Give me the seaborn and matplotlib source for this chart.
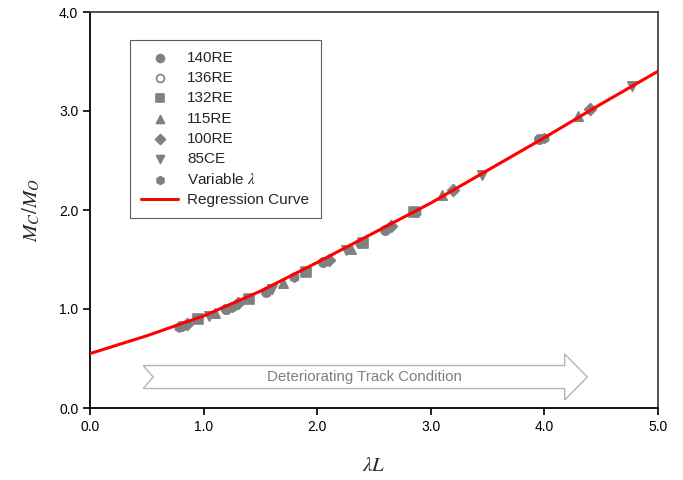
import matplotlib
matplotlib.use("Agg")
import matplotlib.pyplot as plt
import seaborn as sns
import pandas as pd
from matplotlib.patches import Polygon

sns.set_theme(style="white")
plt.rcParams['font.family'] = ['Liberation Sans', 'DejaVu Sans']
plt.rcParams['mathtext.fontset'] = 'stix'

# ---- data ----
x_140RE = [0.80, 1.20, 1.55, 2.05, 2.60, 3.95]
y_140RE = [0.83, 1.00, 1.17, 1.47, 1.80, 2.72]
x_136RE = [0.80, 1.20]
y_136RE = [0.83, 1.00]
x_132RE = [0.95, 1.40, 1.90, 2.40, 2.85]
y_132RE = [0.90, 1.10, 1.37, 1.67, 1.98]
x_115RE = [1.10, 1.70, 2.30, 3.10, 4.30]
y_115RE = [0.96, 1.26, 1.61, 2.15, 2.95]
x_100RE = [0.85, 1.30, 2.10, 2.65, 3.20, 4.40]
y_100RE = [0.85, 1.06, 1.50, 1.84, 2.20, 3.02]
x_85CE = [1.05, 1.60, 2.25, 3.45, 4.77]
y_85CE = [0.93, 1.20, 1.60, 2.35, 3.25]
x_var = [0.78, 1.25, 1.80, 2.38, 2.87, 4.00]
y_var = [0.82, 1.02, 1.32, 1.67, 1.98, 2.73]

curve_x = [0.0, 0.5, 1.0, 1.5, 2.0, 2.5, 3.0, 3.5, 4.0, 4.5, 5.0]
curve_y = [0.55, 0.73, 0.93, 1.18, 1.47, 1.77, 2.07, 2.40, 2.73, 3.07, 3.40]

series = [
    ("140RE", x_140RE, y_140RE, "o", "gray", 3),
    ("136RE", x_136RE, y_136RE, "o", "white", 2),
    ("132RE", x_132RE, y_132RE, "s", "gray", 3),
    ("115RE", x_115RE, y_115RE, "^", "gray", 3),
    ("100RE", x_100RE, y_100RE, "D", "gray", 3),
    ("85CE", x_85CE, y_85CE, "v", "gray", 3),
    (r"Variable $\lambda$", x_var, y_var, "h", "gray", 3),
]

fig, ax = plt.subplots(figsize=(6.83, 4.8), dpi=100)
fig.subplots_adjust(left=0.132, right=0.963, top=0.975, bottom=0.15)

for label, xs, ys, m, fc, z in series:
    df = pd.DataFrame({"x": xs, "y": ys})
    sz = 45 if m != "D" else 36
    sns.scatterplot(data=df, x="x", y="y", marker=m, s=sz, color=fc,
                    edgecolor="gray", linewidth=1.2, ax=ax, label=label, zorder=z)

cdf = pd.DataFrame({"x": curve_x, "y": curve_y})
sns.lineplot(data=cdf, x="x", y="y", color="red", linewidth=2.2, ax=ax,
             label="Regression Curve", zorder=4)

# arrow annotation
yc, bh, hh = 0.313, 0.116, 0.232
x0, xn, xb, xt = 0.467, 0.555, 4.18, 4.38
arrow = Polygon([(x0, yc + bh), (xb, yc + bh), (xb, yc + hh), (xt, yc),
                 (xb, yc - hh), (xb, yc - bh), (x0, yc - bh), (xn, yc)],
                closed=True, facecolor="white", edgecolor="#b4b4b4", linewidth=1.0, zorder=2)
ax.add_patch(arrow)
ax.text(2.42, yc, "Deteriorating Track Condition", ha="center", va="center",
        color="#7f7f7f", fontsize=10.8)

ax.set_xlim(0, 5)
ax.set_ylim(0, 4)
ax.set_xticks([0, 1, 2, 3, 4, 5])
ax.set_yticks([0, 1, 2, 3, 4])
ax.set_xticklabels(["0.0", "1.0", "2.0", "3.0", "4.0", "5.0"], fontsize=10)
ax.set_yticklabels(["0.0", "1.0", "2.0", "3.0", "4.0"], fontsize=10)
ax.tick_params(axis="both", direction="out", length=5, width=1.2, color="black",
               bottom=True, left=True, labelcolor="black")
ax.set_xlabel(r"$\lambda L$", fontsize=15, labelpad=16)
ax.set_ylabel(r"$M_C/M_O$", fontsize=15, labelpad=12)

for side in ["left", "bottom"]:
    ax.spines[side].set_color("black")
    ax.spines[side].set_linewidth(1.3)
for side in ["top", "right"]:
    ax.spines[side].set_color("#444444")
    ax.spines[side].set_linewidth(1.3)

leg = ax.legend(loc="upper left", bbox_to_anchor=(0.07, 0.93), frameon=True,
                fancybox=False, edgecolor="#333333", fontsize=11,
                borderpad=0.75, labelspacing=0.4, handlelength=2.4,
                handletextpad=0.6, borderaxespad=0, markerscale=0.85)
leg.get_frame().set_linewidth(0.8)

fig.savefig("out.png", dpi=100)
